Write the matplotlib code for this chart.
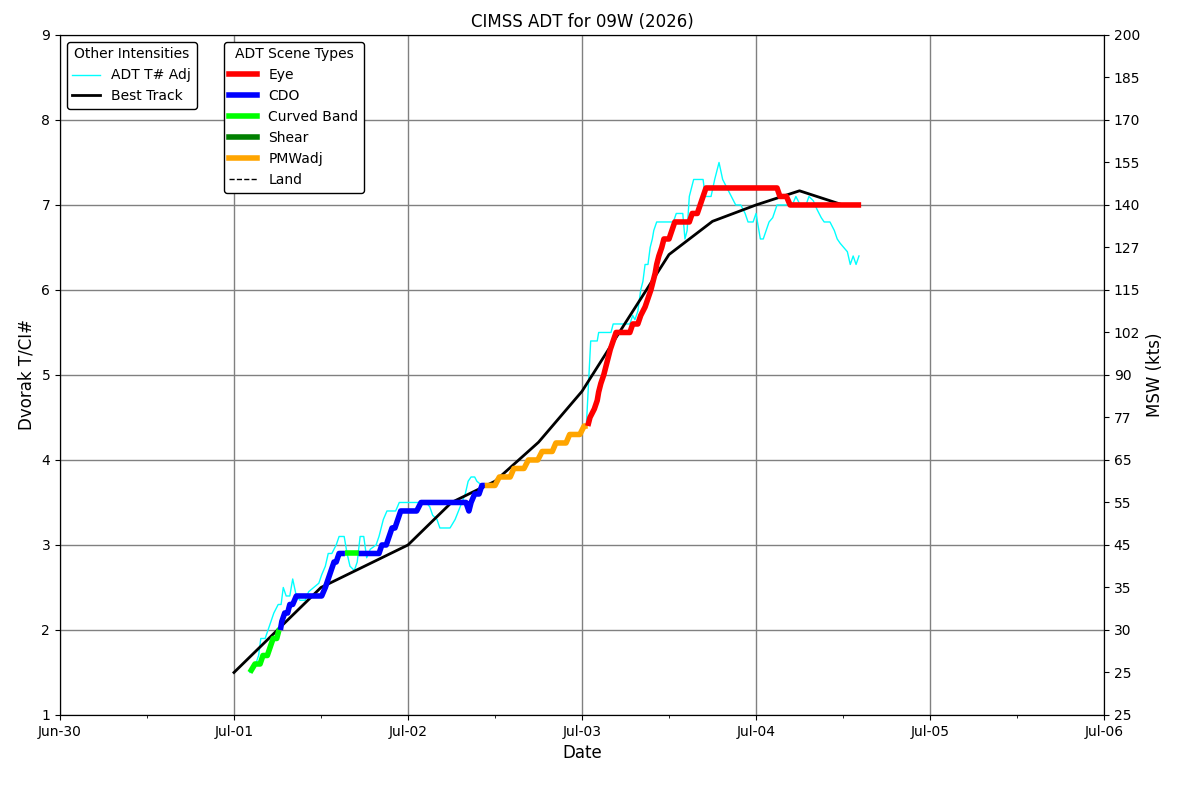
import datetime as dt
import numpy as np
import matplotlib
matplotlib.use("Agg")
import matplotlib.pyplot as plt
import matplotlib.dates as mdates
from matplotlib.lines import Line2D

# ---------------- data ----------------
base = dt.datetime(2026, 7, 1, 0, 0)

# T-number <-> MSW (kts) scale used on the right axis
scale_tno = [1.0, 1.5, 2.0, 2.5, 3.0, 3.5, 4.0, 4.5, 5.0, 5.5, 6.0, 6.5, 7.0, 7.5, 8.0, 8.5, 9.0]
scale_kts = [25, 25, 30, 35, 45, 55, 65, 77, 90, 102, 115, 127, 140, 155, 170, 185, 200]

# Best track (hours since Jul-01 00Z, kts)
bt_hours = [0, 6, 12, 18, 24, 30, 36, 42, 48, 54, 60, 66, 72, 78, 84]
bt_kts = [25, 30, 35, 40, 45, 55, 60, 70, 85, 105, 125, 135, 140, 145, 140]

# ADT final T# with scene types (hours since Jul-01 00Z)
adt_hours = [2.2, 2.9, 3.6, 4.0, 4.6, 5.0, 5.4, 5.9, 6.2,
             6.4, 6.6, 7.0, 7.4, 7.7, 8.1, 8.6, 12.1, 12.6, 13.0, 13.4, 13.8, 14.1, 14.5, 14.9,
             15.3, 17.1,
             17.2, 20.0, 20.4, 21.0, 21.4, 21.8, 22.2, 22.6, 23.0, 25.2, 25.8, 32.0, 32.4, 32.7,
             33.2, 33.8, 34.2, 34.5,
             34.6, 36.0, 36.6, 38.1, 38.6, 40.0, 40.6, 41.9, 42.5, 43.9, 44.4, 45.8, 46.3, 47.7,
             48.3, 48.7,
             48.8, 49.1, 49.7, 50.1, 50.3, 50.6, 51.0, 51.3, 51.6, 51.9, 52.3, 52.7, 54.6, 55.0,
             55.7, 56.1, 56.7, 57.1, 57.5, 57.8, 58.1, 58.3, 58.6, 59.0, 59.3, 60.0, 60.4, 60.8,
             62.8, 63.2, 63.9, 64.3, 64.7, 65.1, 74.9, 75.3, 76.2, 76.7, 86.5]
adt_tno = [1.5, 1.6, 1.6, 1.7, 1.7, 1.8, 1.9, 1.9, 2.0,
           2.0, 2.1, 2.2, 2.2, 2.3, 2.3, 2.4, 2.4, 2.5, 2.6, 2.7, 2.8, 2.8, 2.9, 2.9,
           2.9, 2.9,
           2.9, 2.9, 3.0, 3.0, 3.1, 3.2, 3.2, 3.3, 3.4, 3.4, 3.5, 3.5, 3.4, 3.5,
           3.6, 3.6, 3.7, 3.7,
           3.7, 3.7, 3.8, 3.8, 3.9, 3.9, 4.0, 4.0, 4.1, 4.1, 4.2, 4.2, 4.3, 4.3,
           4.4, 4.4,
           4.4, 4.5, 4.6, 4.7, 4.8, 4.9, 5.0, 5.1, 5.2, 5.3, 5.4, 5.5, 5.5, 5.6,
           5.6, 5.7, 5.8, 5.9, 6.0, 6.1, 6.2, 6.3, 6.4, 6.5, 6.6, 6.6, 6.7, 6.8,
           6.8, 6.9, 6.9, 7.0, 7.1, 7.2, 7.2, 7.1, 7.1, 7.0, 7.0]
adt_scene = (["CB"] * 9 + ["CDO"] * 15 + ["CB"] * 2 + ["CDO"] * 18 +
             ["PMW"] * 16 + ["EYE"] * 39)

# ADT T# Adj (raw adjusted)
adj_hours = [2.2, 3.0, 3.4, 3.7, 4.3, 4.7, 5.1, 5.5, 6.1, 6.5, 6.8, 7.2, 7.7, 8.1, 8.6, 9.1,
             9.8, 10.3, 11.0, 11.7, 12.1, 12.6, 13.0, 13.5, 14.1, 14.5, 15.2, 15.6, 16.0, 16.6,
             17.0, 17.4, 17.9, 18.3, 18.8, 19.6, 20.0, 20.6, 21.1, 22.3, 22.8, 26.5, 27.0, 27.4,
             28.0, 28.4, 29.8, 30.5, 31.2, 31.9, 32.3, 32.7, 33.2, 33.5, 34.2, 34.6,
             36.0, 36.6, 38.1, 38.6, 40.0, 40.6, 41.9, 42.5, 43.9, 44.4, 45.8, 46.3, 47.7, 48.3,
             48.6, 49.2, 50.1, 50.3, 52.0, 52.3, 54.6, 55.0, 55.3, 55.7, 56.1, 56.4, 56.7, 57.1,
             57.4, 57.7, 57.9, 58.3, 60.6, 61.0, 61.9, 62.2, 62.5, 62.8, 63.4, 64.7, 65.0, 65.8,
             66.3, 66.9, 67.4, 68.0, 68.6, 69.2, 69.9, 70.5, 70.9, 71.6, 72.0, 72.3, 72.6, 73.0,
             73.4, 73.8, 74.3, 74.9, 77.0, 77.5, 78.1, 78.9, 79.3, 79.9, 80.4, 81.0, 81.4, 82.2,
             82.8, 83.2, 83.6, 84.1, 84.6, 85.0, 85.4, 85.8, 86.2]
adj_tno = [1.5, 1.6, 1.7, 1.9, 1.9, 2.0, 2.1, 2.2, 2.3, 2.3, 2.5, 2.4, 2.4, 2.6, 2.4, 2.35,
           2.35, 2.45, 2.5, 2.55, 2.65, 2.75, 2.9, 2.9, 3.0, 3.1, 3.1, 2.9, 2.75, 2.7,
           2.8, 3.1, 3.1, 2.85, 2.95, 3.0, 3.1, 3.3, 3.4, 3.4, 3.5, 3.5, 3.45, 3.35,
           3.3, 3.2, 3.2, 3.3, 3.45, 3.6, 3.75, 3.8, 3.8, 3.75, 3.7, 3.7,
           3.7, 3.8, 3.8, 3.9, 3.9, 4.0, 4.0, 4.1, 4.1, 4.2, 4.2, 4.3, 4.3, 4.4,
           4.4, 5.4, 5.4, 5.5, 5.5, 5.6, 5.6, 5.7, 5.65, 5.75, 6.0, 6.1, 6.3, 6.3,
           6.5, 6.6, 6.7, 6.8, 6.8, 6.9, 6.9, 6.6, 6.7, 7.1, 7.3, 7.3, 7.1, 7.1,
           7.3, 7.5, 7.3, 7.2, 7.1, 7.0, 7.0, 6.9, 6.8, 6.8, 6.9, 6.75, 6.6, 6.6,
           6.7, 6.8, 6.85, 7.0, 7.0, 7.1, 7.0, 7.0, 7.1, 7.05, 6.95, 6.85, 6.8, 6.8,
           6.7, 6.6, 6.55, 6.5, 6.45, 6.3, 6.4, 6.3, 6.4]

scene_colors = {"EYE": "red", "CDO": "blue", "CB": "lime", "SHEAR": "green", "PMW": "orange"}
scene_labels = ["Eye", "CDO", "Curved Band", "Shear", "PMWadj"]
scene_keys = ["EYE", "CDO", "CB", "SHEAR", "PMW"]

x_ticks_days = [dt.datetime(2026, 6, 30) + dt.timedelta(days=i) for i in range(7)]


def to_time(hours):
    return [base + dt.timedelta(hours=h) for h in hours]


# ---------------- figure ----------------
fig = plt.figure(figsize=(11.92, 7.91), dpi=100)
ax = fig.add_axes([0.0503, 0.0961, 0.8759, 0.8597])

# ADT T# Adj
ax.plot(to_time(adj_hours), adj_tno, color="cyan", lw=1, zorder=2)

# Best track
bt_tno = np.interp(bt_kts, scale_kts[1:], scale_tno[1:])
ax.plot(to_time(bt_hours), bt_tno, color="black", lw=2, zorder=2.5)

# ADT scene-type colored line
runs = []
start = 0
for i in range(1, len(adt_scene) + 1):
    if i == len(adt_scene) or adt_scene[i] != adt_scene[start]:
        runs.append((start, i))
        start = i
for s, e in runs:
    end = min(e + 1, len(adt_hours))
    ax.plot(to_time(adt_hours[s:end]), adt_tno[s:end],
            color=scene_colors[adt_scene[s]], lw=4, solid_capstyle="butt", zorder=3)

ax.set_xlim(x_ticks_days[0], x_ticks_days[-1])
ax.set_ylim(1, 9)
ax.set_yticks(range(1, 10))
ax.xaxis.set_major_locator(mdates.DayLocator())
ax.xaxis.set_minor_locator(mdates.HourLocator(byhour=[12]))
ax.xaxis.set_major_formatter(mdates.DateFormatter("%b-%d"))
ax.grid(True, which="major", color="gray", lw=1)
ax.set_axisbelow(True)
ax.set_xlabel("Date", fontsize=12)
ax.set_ylabel("Dvorak T/CI#", fontsize=12)
ax.set_title("CIMSS ADT for 09W (2026)", fontsize=12)

ax2 = ax.twinx()
ax2.set_ylim(1, 9)
ax2.set_yticks(scale_tno)
ax2.set_yticklabels([str(k) for k in scale_kts])
ax2.set_ylabel("MSW (kts)", fontsize=12)

# legends
h1 = [Line2D([], [], color="cyan", lw=1), Line2D([], [], color="black", lw=2)]
leg1 = ax.legend(h1, ["ADT T# Adj", "Best Track"], title="Other Intensities",
                 loc="upper left", fontsize=10, title_fontsize=10,
                 framealpha=1, edgecolor="black")
ax.add_artist(leg1)
h2 = [Line2D([], [], color=scene_colors[k], lw=4) for k in scene_keys]
h2.append(Line2D([], [], color="black", lw=1, ls="--"))
leg2 = ax.legend(h2, scene_labels + ["Land"], title="ADT Scene Types",
                 loc="upper left", bbox_to_anchor=(0.157, 0.99), borderaxespad=0,
                 fontsize=10, title_fontsize=10, framealpha=1, edgecolor="black")
leg1.set_zorder(10)
leg2.set_zorder(10)

fig.savefig("out.png", dpi=100)
